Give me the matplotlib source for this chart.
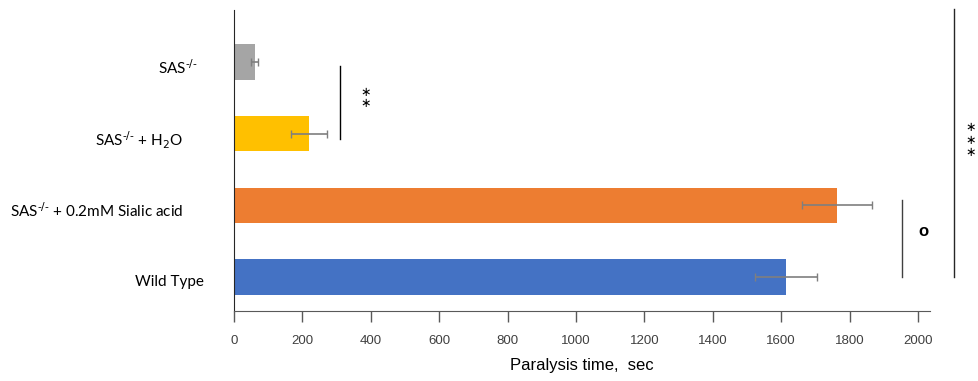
import matplotlib.pyplot as plt
from matplotlib.transforms import ScaledTranslation

plt.rcParams['font.family'] = ['Liberation Sans', 'DejaVu Sans']

# Data (top to bottom in the chart)
labels = [r'SAS$^{\text{-/-}}$',
          r'SAS$^{\text{-/-}}$ + H$_\text{2}$O',
          r'SAS$^{\text{-/-}}$ + 0.2mM Sialic acid',
          'Wild Type']
values = [61, 219, 1763, 1614]
errors = [10, 53, 102, 91]
colors = ['#a5a5a5', '#ffc000', '#ed7d31', '#4472c4']

fig = plt.figure(figsize=(9.79, 3.81), dpi=100)
ax = fig.add_axes([234 / 979, 1 - 311 / 381, (930 - 234) / 979, (311 - 10) / 381])

ypos = [3, 2, 1, 0]
ax.barh(ypos, values, height=0.49, color=colors, xerr=errors,
        error_kw=dict(ecolor='#7f7f7f', elinewidth=1.2, capsize=3, capthick=1))

ax.set_xlim(0, 2035)
ax.set_ylim(-0.475, 3.725)
ax.set_xticks(range(0, 2001, 200))
ax.set_yticks(ypos)
ax.set_yticklabels(labels, fontfamily='Lato', fontsize=11)
ax.tick_params(axis='y', length=0, pad=23)
ax.tick_params(axis='x', length=8, width=1, color='#595959', pad=9,
               labelsize=9.5, labelcolor='#404040')
ax.set_xlabel('Paralysis time,  sec', fontsize=12, labelpad=8)

# labels in the original are not aligned evenly
shifts = [-4, -19, -19, 2]
for lab, dx in zip(ax.get_yticklabels(), shifts):
    lab.set_transform(lab.get_transform() +
                      ScaledTranslation(dx / 100, -4 / 100, fig.dpi_scale_trans))

for s in ['top', 'right']:
    ax.spines[s].set_visible(False)
ax.spines['left'].set_color('#262626')
ax.spines['bottom'].set_color('#595959')

# significance marks (stacked asterisks)
ax.plot([310, 310], [1.926, 2.944], color='black', lw=1, clip_on=False)
for yy in [2.58, 2.42]:
    ax.text(385, yy, r'$\ast$', ha='center', va='center', fontsize=9,
            clip_on=False)
ax.plot([1953, 1953], [0.0, 1.08], color='#404040', lw=1, clip_on=False)
ax.text(2015, 0.64, 'o', ha='center', va='center', fontsize=12,
        fontweight='bold', clip_on=False)
ax.plot([2105, 2105], [0.0, 3.74], color='#262626', lw=1, clip_on=False)
for yy in [2.08, 1.91, 1.74]:
    ax.text(2152, yy, r'$\ast$', ha='center', va='center', fontsize=9,
            clip_on=False)

fig.savefig('out.png', dpi=100)
